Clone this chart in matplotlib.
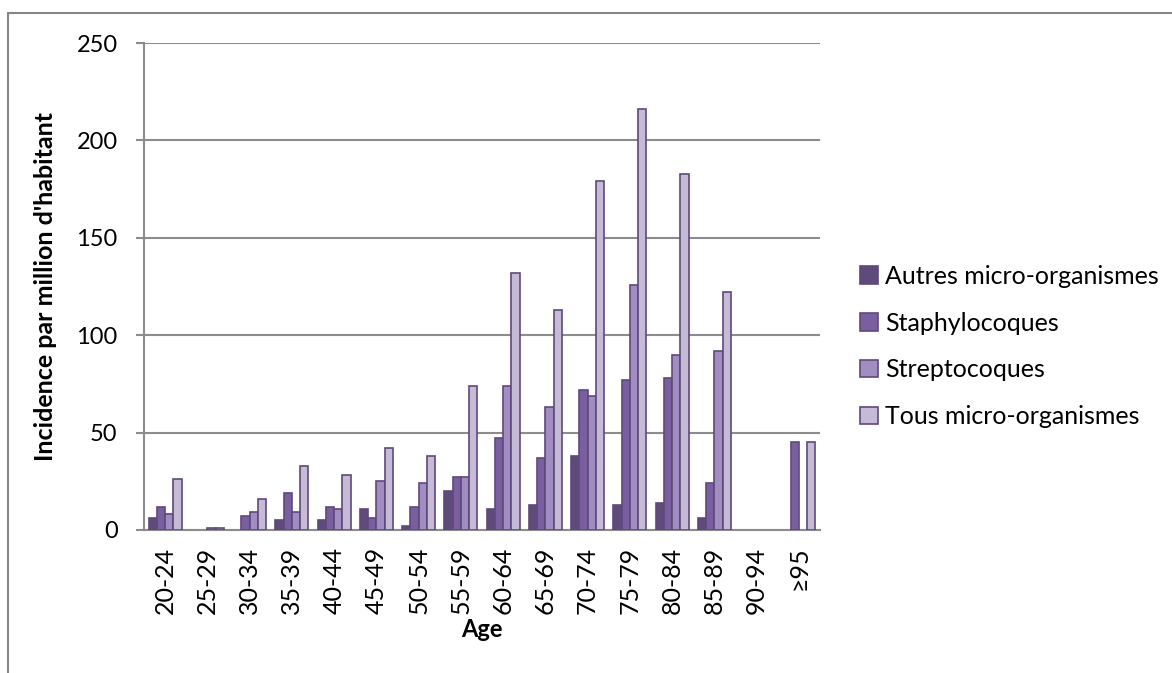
import numpy as np
import matplotlib
matplotlib.use("Agg")
import matplotlib.pyplot as plt
from matplotlib.patches import Rectangle

# tranches d'âge et incidence par million d'habitants
ages = ["20-24", "25-29", "30-34", "35-39", "40-44", "45-49", "50-54", "55-59",
        "60-64", "65-69", "70-74", "75-79", "80-84", "85-89", "90-94", "\u226595"]
autres = [6, 0, 0, 5, 5, 11, 2, 20, 11, 13, 38, 13, 14, 6, 0, 0]
staphylocoques = [12, 0, 7, 19, 12, 6, 12, 27, 47, 37, 72, 77, 78, 24, 0, 45]
streptocoques = [8, 1, 9, 9, 11, 25, 24, 27, 74, 63, 69, 126, 90, 92, 0, 0]
tous = [26, 1, 16, 33, 28, 42, 38, 74, 132, 113, 179, 216, 183, 122, 0, 45]

series = [autres, staphylocoques, streptocoques, tous]
noms = ["Autres micro-organismes", "Staphylocoques", "Streptocoques",
        "Tous micro-organismes"]
couleurs = ["#5F4A7C", "#7A5FA0", "#A18DC1", "#C5BBD7"]

plt.rcParams["font.family"] = ["Lato", "DejaVu Sans"]

fig = plt.figure(figsize=(11.72, 6.73), dpi=100)
ax = fig.add_axes([144 / 1172, 1 - 530 / 673, 676 / 1172, 487 / 673])

# cadre extérieur du graphique
fig.patches.append(Rectangle((8 / 1172, -0.1), 1.2, 1 - 13 / 673 + 0.1,
                             transform=fig.transFigure, fill=False,
                             edgecolor="#868686", linewidth=1.5))

x = np.arange(len(ages))
largeur = 0.194
for i, (vals, nom, c) in enumerate(zip(series, noms, couleurs)):
    vals = np.array(vals, dtype=float)
    pos = x + (i - 1.5) * largeur
    # les valeurs nulles ne sont pas dessinées
    m = vals > 0
    ax.bar(pos[m], vals[m], width=largeur, color=c, edgecolor="#5F497A",
           linewidth=1.2, label=nom, zorder=3)

ax.set_xlim(-0.5, len(ages) - 0.5)
ax.set_ylim(0, 250)
ax.set_yticks([0, 50, 100, 150, 200, 250])
ax.yaxis.grid(True, color="#8C8C8C", linewidth=1.5, zorder=0)
ax.set_axisbelow(True)

for s in ["top", "right"]:
    ax.spines[s].set_visible(False)
ax.spines["left"].set_color("#8C8C8C")
ax.spines["left"].set_linewidth(1.5)
ax.spines["bottom"].set_color("#8C8C8C")
ax.spines["bottom"].set_linewidth(1.5)

ax.tick_params(axis="y", length=6, width=1.5, color="#8C8C8C",
               labelsize=17, pad=13)
ax.tick_params(axis="x", length=0, labelsize=18, pad=12)
ax.set_xticks(x)
ax.set_xticklabels(ages, rotation=90)

ax.set_xlabel("Age", fontsize=17, fontweight="bold", labelpad=3)
ax.set_ylabel("Incidence par million d'habitant", fontsize=18,
              fontweight="bold", labelpad=14)

ax.legend(loc="center left", bbox_to_anchor=(1.045, 0.377), frameon=False,
          fontsize=18, handlelength=0.7, handleheight=0.7,
          handletextpad=0.3, labelspacing=0.95, borderaxespad=0)

fig.savefig("out.png", dpi=100)
